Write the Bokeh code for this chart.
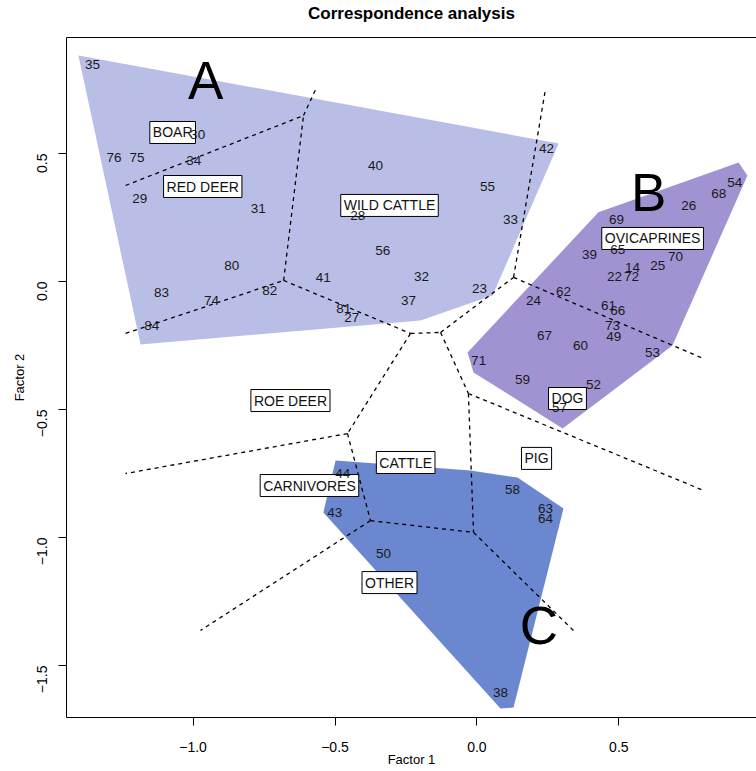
import math
from bokeh.plotting import figure
from bokeh.models import LinearAxis, FixedTicker
from bokeh.core.properties import value
from bokeh.embed import file_html
from bokeh.resources import INLINE

FONT = "Liberation Sans"
TITLE = "Correspondence analysis"

# ---- sample points (site numbers) ----
site_ids = ["35", "76", "75", "30", "34", "29", "31", "80", "83", "74", "82", "84",
            "40", "55", "33", "42", "28", "56", "41", "32", "37", "81", "27", "23",
            "54", "68", "26", "69", "65", "39", "14", "22", "72", "25", "70", "62",
            "24", "61", "66", "73", "49", "67", "60", "53", "71", "59", "52", "57",
            "44", "43", "50", "58", "63", "64", "38"]
site_x = [-1.354, -1.279, -1.198, -0.984, -0.998, -1.188, -0.770, -0.864, -1.111, -0.935, -0.730, -1.146,
          -0.357, 0.037, 0.118, 0.245, -0.420, -0.332, -0.541, -0.195, -0.241, -0.469, -0.441, 0.009,
          0.908, 0.852, 0.746, 0.492, 0.496, 0.397, 0.548, 0.485, 0.545, 0.637, 0.700, 0.305,
          0.199, 0.464, 0.496, 0.478, 0.482, 0.238, 0.365, 0.619, 0.006, 0.161, 0.411, 0.291,
          -0.473, -0.501, -0.329, 0.125, 0.242, 0.242, 0.083]
site_y = [0.848, 0.484, 0.484, 0.574, 0.473, 0.324, 0.285, 0.0625, -0.043, -0.074, -0.035, -0.172,
          0.453, 0.371, 0.242, 0.520, 0.258, 0.121, 0.016, 0.020, -0.074, -0.105, -0.141, -0.027,
          0.387, 0.344, 0.297, 0.242, 0.125, 0.105, 0.055, 0.020, 0.020, 0.0625, 0.098, -0.039,
          -0.074, -0.094, -0.113, -0.172, -0.215, -0.211, -0.250, -0.277, -0.309, -0.383, -0.402, -0.492,
          -0.750, -0.902, -1.063, -0.8125, -0.887, -0.926, -1.605]

# ---- taxon labels (boxed) ----
taxa = ["BOAR", "RED DEER", "WILD CATTLE", "OVICAPRINES", "DOG", "ROE DEER",
        "CATTLE", "PIG", "CARNIVORES", "OTHER"]
taxa_x = [-1.072, -0.966, -0.308, 0.619, 0.319, -0.657, -0.251, 0.210, -0.590, -0.308]
taxa_y = [0.582, 0.371, 0.297, 0.168, -0.457, -0.465, -0.707, -0.691, -0.797, -1.176]

# ---- group letters ----
groups = ["A", "B", "C"]
group_x = [-0.956, 0.605, 0.218]
group_y = [0.785, 0.348, -1.344]

# ---- group hulls ----
hull_a_x = [-1.404, 0.288, 0.055, -0.199, -1.185]
hull_a_y = [0.883, 0.539, -0.055, -0.152, -0.246]
hull_b_x = [-0.033, 0.428, 0.922, 0.953, 0.689, 0.302, -0.012]
hull_b_y = [-0.277, 0.270, 0.465, 0.414, -0.250, -0.574, -0.355]
hull_c_x = [-0.498, -0.023, 0.143, 0.305, 0.129, 0.083, -0.541]
hull_c_y = [-0.699, -0.738, -0.766, -0.887, -1.664, -1.668, -0.902]
hull_colors = ["#b9bee6", "#a193d2", "#6a87cf"]

# ---- boundary segments (dashed) ----
seg_x0 = [-1.238, -1.238, -0.681, -0.611, -0.681, -0.234, -0.128, 0.129, 0.129,
          -0.234, -0.456, -0.456, -0.128, -0.030, -0.030, -0.375, -0.012, -0.375]
seg_y0 = [-0.203, 0.375, 0.004, 0.648, 0.004, -0.203, -0.199, 0.016, 0.016,
          -0.203, -0.594, -0.594, -0.199, -0.4375, -0.4375, -0.934, -0.980, -0.934]
seg_x1 = [-0.681, -0.611, -0.611, -0.565, -0.234, -0.128, 0.129, 0.242, 0.798,
          -0.456, -1.238, -0.375, -0.030, -0.012, 0.798, -0.012, 0.340, -0.974]
seg_y1 = [0.004, 0.648, 0.648, 0.758, -0.203, -0.199, 0.016, 0.754, -0.301,
          -0.594, -0.750, -0.934, -0.4375, -0.980, -0.816, -0.980, -1.363, -1.363]

x_ticks = [-1.0, -0.5, 0.0, 0.5]
y_ticks = [-1.5, -1.0, -0.5, 0.0, 0.5]


def fmt(v):
    s = "%.1f" % v
    return s.replace("-", "\u2212")


p = figure(width=756, height=771, x_range=(-1.446, 0.985), y_range=(-1.703, 0.953),
           output_backend="svg", toolbar_location=None, title=None,
           min_border_left=66, min_border_right=0, min_border_top=37, min_border_bottom=54,
           x_axis_label="Factor 1", y_axis_label="Factor 2")
p.grid.visible = False
p.outline_line_color = None
p.background_fill_color = "white"

for ax, ticks in ((p.xaxis[0], x_ticks), (p.yaxis[0], y_ticks)):
    ax.ticker = FixedTicker(ticks=ticks)
    ax.major_label_overrides = {t: fmt(t) for t in ticks}
    ax.minor_tick_line_color = None
    ax.major_tick_in = 0
    ax.major_tick_out = 8
    ax.major_tick_line_color = "black"
    ax.axis_line_color = "black"
    ax.major_label_text_font = FONT
    ax.major_label_text_font_size = "14px"
    ax.major_label_text_color = "black"
    ax.axis_label_text_font = FONT
    ax.axis_label_text_font_size = "13px"
    ax.axis_label_text_font_style = "normal"
    ax.axis_label_text_color = "black"
p.yaxis[0].major_label_orientation = math.pi / 2
p.yaxis[0].major_label_standoff = 16
p.yaxis[0].axis_label_standoff = 3
p.xaxis[0].major_label_standoff = 16
p.xaxis[0].axis_label_standoff = -3

# top frame line carrying the chart title
top_axis = LinearAxis(ticker=FixedTicker(ticks=[]), major_label_text_font_size="0px",
                      major_label_standoff=0, major_tick_in=0, major_tick_out=0,
                      major_tick_line_color=None, minor_tick_line_color=None,
                      axis_line_color="black", axis_label=TITLE,
                      axis_label_text_font=FONT, axis_label_text_font_size="17px",
                      axis_label_text_font_style="bold", axis_label_text_color="black",
                      axis_label_standoff=15)
p.add_layout(top_axis, "above")

p.patches([hull_a_x, hull_b_x, hull_c_x], [hull_a_y, hull_b_y, hull_c_y],
          fill_color=hull_colors, line_color=None, fill_alpha=1.0)

p.segment(seg_x0, seg_y0, seg_x1, seg_y1, line_color="black", line_width=1.3,
          line_dash="4 4")

p.text(taxa_x, taxa_y, text=taxa, text_align="center", text_baseline="middle",
       text_font=value(FONT), text_font_size="14px", text_color="#111111",
       background_fill_color="white", border_line_color="black", border_line_width=1,
       padding=3)

p.text(site_x, site_y, text=site_ids, text_align="center", text_baseline="middle",
       text_font=value(FONT), text_font_size="13.5px", text_color="#1a1a1a")

p.text(group_x, group_y, text=groups, text_align="center", text_baseline="middle",
       text_font=value(FONT), text_font_size="53px", text_color="black")

open("out.html", "w").write(file_html(p, INLINE))
